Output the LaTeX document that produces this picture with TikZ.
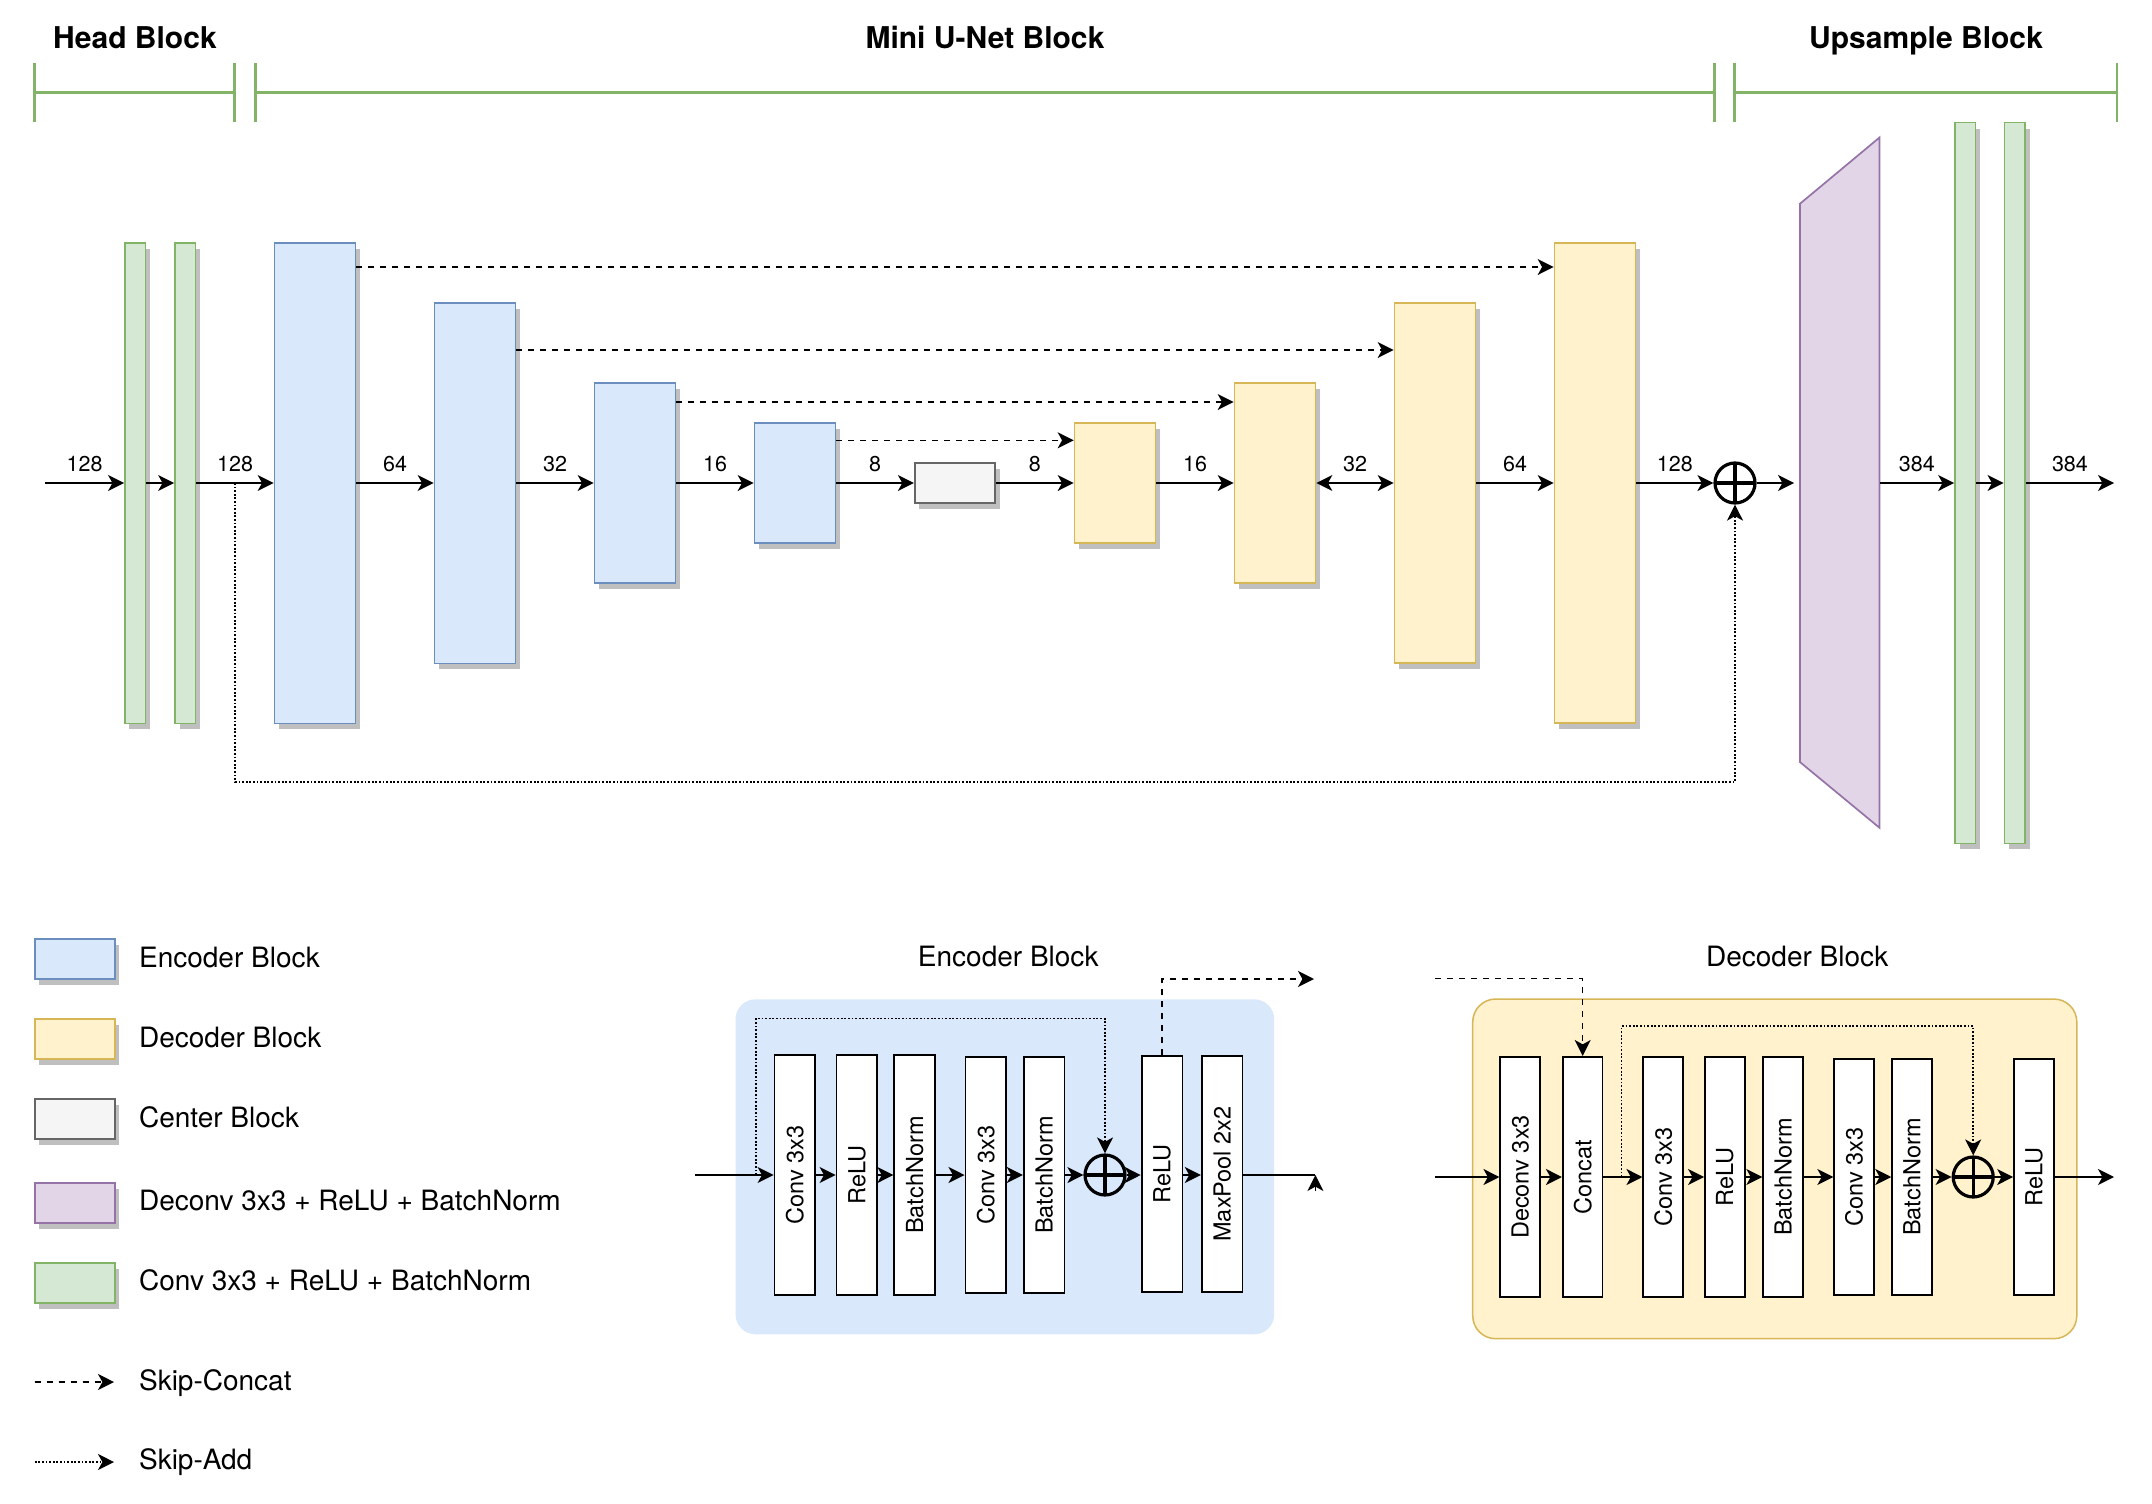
\documentclass[tikz,border=0pt]{standalone}
\usepackage{fontspec}
\setmainfont{TeX Gyre Heros}
\usetikzlibrary{arrows.meta,shadows,calc}
\definecolor{blueF}{HTML}{DAE8FC}
\definecolor{blueD}{HTML}{6C8EBF}
\definecolor{yelF}{HTML}{FFF2CC}
\definecolor{yelD}{HTML}{D6B656}
\definecolor{grnF}{HTML}{D5E8D4}
\definecolor{grnD}{HTML}{82B366}
\definecolor{purF}{HTML}{E1D5E7}
\definecolor{purD}{HTML}{9673A6}
\definecolor{grayF}{HTML}{F5F5F5}
\definecolor{grayD}{HTML}{666666}
\begin{document}
\begin{tikzpicture}[x=0.5pt,y=-0.5pt,
  >={Stealth[length=8pt,width=8pt,inset=2.2pt]},
  blk/.style={draw, line width=0.85pt, inner sep=0pt},
  bx/.style 2 args={minimum width=#1*0.5pt, minimum height=#2*0.5pt},
  shad/.style={drop shadow={shadow xshift=2.25pt, shadow yshift=-3pt, fill=black!25, opacity=1}},
  encb/.style={blk, shad, fill=blueF, draw=blueD},
  decb/.style={blk, shad, fill=yelF, draw=yelD},
  cenb/.style={blk, shad, fill=grayF, draw=grayD},
  grnb/.style={blk, shad, fill=grnF, draw=grnD},
  purb/.style={blk, shad, fill=purF, draw=purD},
  wbox/.style={draw=black, fill=white, line width=0.9pt, inner sep=0pt},
  rlab/.style={label={[rotate=90, inner sep=0pt, font=\fontsize{11.75}{14}\selectfont]center:#1}},
  oplus/.style={circle, draw=black, line width=1.6pt, minimum size=20pt, inner sep=0pt,
    path picture={\draw[line width=1.6pt] (path picture bounding box.north) -- (path picture bounding box.south)
      (path picture bounding box.west) -- (path picture bounding box.east);}},
  arr/.style={line width=0.75pt, ->},
  darr/.style={line width=0.75pt, <->},
  dots/.style={dash pattern=on 0.9pt off 0.9pt},
  lbl/.style={above=5pt, inner sep=0pt, font=\fontsize{10.75}{12}\selectfont},
  legt/.style={anchor=base west, inner sep=0pt, font=\fontsize{14}{16}\selectfont},
  ttl/.style={anchor=base, inner sep=0pt, font=\fontsize{15}{18}\selectfont\bfseries},
  brk/.style={draw=grnD, line width=1.35pt}
]
\useasboundingbox (0,0) rectangle (2152,1504);

% ---------- header brackets ----------
\node[ttl] (t1) at (135,48.5) {Head Block};
\node[ttl] (t2) at (985,48.5) {Mini U-Net Block};
\node[ttl] (t3) at (1926,48.5) {Upsample Block};
\draw[brk] (34.3,63) -- (34.3,122) (34.3,92.5) -- (234.7,92.5) (234.7,63) -- (234.7,122);
\draw[brk] (255.3,63) -- (255.3,122) (255.3,92.5) -- (1714.2,92.5) (1714.2,63) -- (1714.2,122);
\draw[brk] (1734.8,63) -- (1734.8,122) (1734.8,92.5) -- (2117,92.5) (2117,63) -- (2117,122);

% ---------- main network ----------
\node[grnb, bx={20.6}{480.7}] (h1) at (135.2,483) {};
\node[grnb, bx={20.6}{480.7}] (h2) at (185.3,483) {};
\node[encb, bx={81}{480.7}] (e1) at (315,483) {};
\node[encb, bx={81}{360.7}] (e2) at (475,483) {};
\node[encb, bx={81}{200.5}] (e3) at (635,483) {};
\node[encb, bx={81}{120}] (e4) at (795,483) {};
\node[cenb, bx={80.5}{40.3}] (c0) at (955,483) {};
\node[decb, bx={81}{120}] (d1) at (1115,483) {};
\node[decb, bx={81}{200}] (d2) at (1275,483) {};
\node[decb, bx={81}{360}] (d3) at (1435,483) {};
\node[decb, bx={81}{480}] (d4) at (1595,483) {};
\node[oplus] (op) at (1735,483) {};
\draw[fill=purF, draw=purD, line width=0.85pt] (1800,203.7) -- (1879.5,137.5) -- (1879.5,827.8) -- (1800,762.1) -- cycle;
\coordinate (tpl) at (1794,483);
\coordinate (tpr) at (1879.5,483);
\node[grnb, bx={20.6}{720.7}] (u1) at (1965.3,483) {};
\node[grnb, bx={20.6}{720.7}] (u2) at (2014.7,483) {};
\coordinate (in) at (45.3,483);
\coordinate (out) at (2114,483);
\coordinate (sa) at (235.2,483);

\draw[arr] (in) -- node[lbl]{128} (h1.west);
\draw[arr] (h1.east) -- (h2.west);
\draw[arr] (h2.east) -- node[lbl]{128} (e1.west);
\draw[arr] (e1.east) -- node[lbl]{64} (e2.west);
\draw[arr] (e2.east) -- node[lbl]{32} (e3.west);
\draw[arr] (e3.east) -- node[lbl]{16} (e4.west);
\draw[arr] (e4.east) -- node[lbl]{8} (c0.west);
\draw[arr] (c0.east) -- node[lbl]{8} (d1.west);
\draw[arr] (d1.east) -- node[lbl]{16} (d2.west);
\draw[darr] (d2.east) -- node[lbl]{32} (d3.west);
\draw[arr] (d3.east) -- node[lbl]{64} (d4.west);
\draw[arr] (d4.east) -- node[lbl]{128} (op.west);
\draw[arr] (op.east) -- (tpl);
\draw[arr] (tpr) -- node[lbl]{384} (u1.west);
\draw[arr] (u1.east) -- (u2.west);
\draw[arr] (u2.east) -- node[lbl]{384} (out);

\draw[arr, dashed] (e1.east |- 0,267) -- (d4.west |- 0,267);
\draw[arr, dashed] (e2.east |- 0,350) -- (d3.west |- 0,350);
\draw[arr, dashed] (e3.east |- 0,402) -- (d2.west |- 0,402);
\draw[arr, dashed] (e4.east |- 0,440.3) -- (d1.west |- 0,440.3);
\draw[arr, dots] (sa) -- (sa |- 0,782) -| (op.south);

% ---------- legend ----------
\node[encb, bx={80}{40}] (le) at (74.85,959) {};
\node[decb, bx={80}{40}] (ld) at (74.85,1039) {};
\node[cenb, bx={80}{40}] (lc) at (74.85,1119) {};
\node[purb, bx={80}{40}] (lp) at (74.85,1203) {};
\node[grnb, bx={80}{40}] (lg) at (74.85,1283) {};
\node[legt] (tle) at (138.7,967) {Encoder Block};
\node[legt] (tld) at (138.7,1047) {Decoder Block};
\node[legt] (tlc) at (138.7,1127) {Center Block};
\node[legt] (tlp) at (138.7,1210) {Deconv 3x3 + ReLU + BatchNorm};
\node[legt] (tlg) at (138.7,1290) {Conv 3x3 + ReLU + BatchNorm};
\node[legt] (tls) at (138.7,1390) {Skip-Concat};
\node[legt] (tla) at (138.7,1469) {Skip-Add};
\coordinate (lca) at (34.7,1382);
\coordinate (lcb) at (114,1382);
\coordinate (laa) at (34.7,1462);
\coordinate (lab) at (114,1462);
\draw[arr, dashed] (lca) -- (lcb);
\draw[arr, dots] (laa) -- (lab);

% ---------- encoder block detail ----------
\node[legt, anchor=base] (tenc) at (1008.3,966) {Encoder Block};
\path[fill=blueF, rounded corners=10pt] (735.5,999.3) rectangle (1274.2,1334.3);
\node[wbox, bx={40.8}{240.3}, rlab={Conv 3x3}] (k1) at (794.9,1175) {};
\node[wbox, bx={40.8}{240.3}, rlab={ReLU}] (k2) at (856.9,1175) {};
\node[wbox, bx={40.8}{240.3}, rlab={BatchNorm}] (k3) at (914.7,1175) {};
\node[wbox, bx={40.8}{236}, rlab={Conv 3x3}] (k4) at (985.8,1175) {};
\node[wbox, bx={40.8}{236}, rlab={BatchNorm}] (k5) at (1044.1,1175) {};
\node[oplus] (kop) at (1105,1175) {};
\node[wbox, bx={40.8}{236}, rlab={ReLU}] (k6) at (1162,1174) {};
\node[wbox, bx={40.8}{236}, rlab={MaxPool 2x2}] (k7) at (1222.1,1174) {};
\coordinate (ein) at (695.2,1175);
\coordinate (esk) at (755.9,1175);
\coordinate (eout) at (1315.4,1175);
\coordinate (eup) at (1315.4,1191);
\coordinate (edash) at (1314,979);
\draw[arr] (ein) -- (k1.west);
\draw[arr] (k1.east) -- (k2.west);
\draw[arr] (k2.east) -- (k3.west);
\draw[arr] (k3.east) -- (k4.west);
\draw[arr] (k4.east) -- (k5.west);
\draw[arr] (k5.east) -- (kop.west);
\draw[arr] (kop.east) -- (k6.west |- kop.east);
\draw[arr] (k6.east |- kop.east) -- (k7.west |- kop.east);
\draw[line width=0.75pt] (k7.east |- eout) -- (eout);
\draw[arr] (eup) -- (eout);
\draw[arr, dots] (esk) -- (esk |- 0,1018.7) -| (kop.north);
\draw[arr, dashed] (k6.north) |- (edash);

% ---------- decoder block detail ----------
\node[legt, anchor=base] (tdec) at (1797.2,966) {Decoder Block};
\path[fill=yelF, draw=yelD, line width=0.75pt, rounded corners=11.5pt] (1472.7,999) rectangle (2076.8,1338.7);
\node[wbox, bx={39.7}{240.3}, rlab={Deconv 3x3}] (q1) at (1520.2,1177) {};
\node[wbox, bx={39.7}{240.3}, rlab={Concat}] (q2) at (1582.7,1177) {};
\node[wbox, bx={39.7}{240.3}, rlab={Conv 3x3}] (q3) at (1663.2,1177) {};
\node[wbox, bx={39.7}{240.3}, rlab={ReLU}] (q4) at (1724.8,1177) {};
\node[wbox, bx={39.7}{240.3}, rlab={BatchNorm}] (q5) at (1783.1,1177) {};
\node[wbox, bx={39.7}{236.3}, rlab={Conv 3x3}] (q6) at (1854.1,1177) {};
\node[wbox, bx={39.7}{236.3}, rlab={BatchNorm}] (q7) at (1912,1177) {};
\node[oplus] (qop) at (1973.2,1177) {};
\node[wbox, bx={39.7}{236.3}, rlab={ReLU}] (q8) at (2033.9,1177) {};
\coordinate (din) at (1435,1177);
\coordinate (dout) at (2114,1177);
\coordinate (dsk) at (1621.7,1177);
\coordinate (ddash) at (1435,978.7);
\draw[arr] (din) -- (q1.west);
\draw[arr] (q1.east) -- (q2.west);
\draw[arr] (q2.east) -- (q3.west);
\draw[arr] (q3.east) -- (q4.west);
\draw[arr] (q4.east) -- (q5.west);
\draw[arr] (q5.east) -- (q6.west);
\draw[arr] (q6.east) -- (q7.west);
\draw[arr] (q7.east) -- (qop.west);
\draw[arr] (qop.east) -- (q8.west);
\draw[arr] (q8.east) -- (dout);
\draw[arr, dashed] (ddash) -| (q2.north);
\draw[arr, dots] (dsk) -- (dsk |- 0,1026) -| (qop.north);
\end{tikzpicture}
\end{document}
